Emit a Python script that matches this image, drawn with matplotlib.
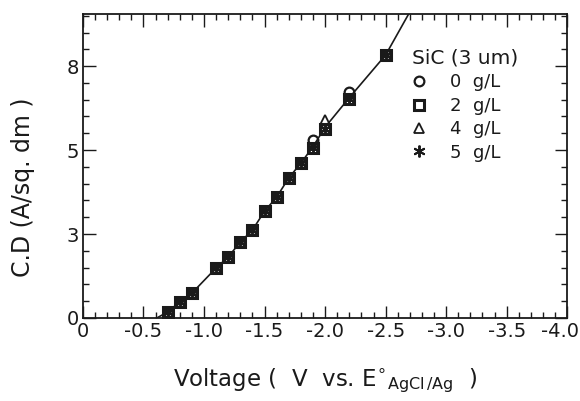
import numpy as np
import matplotlib
matplotlib.use("Agg")
import matplotlib.pyplot as plt
import matplotlib.transforms as mtransforms
from matplotlib.ticker import FixedLocator, FixedFormatter, MultipleLocator

plt.rcParams['font.family'] = ['DejaVu Sans']
plt.rcParams['axes.unicode_minus'] = False
plt.rcParams['mathtext.fontset'] = 'custom'
plt.rcParams['mathtext.rm'] = 'DejaVu Sans'

# voltage (V vs. E AgCl/Ag) and current density
volt = [-0.7, -0.8, -0.9, -1.1, -1.2, -1.3, -1.4, -1.5, -1.6, -1.7, -1.8, -1.9, -2.0, -2.2, -2.5]
cd_0 = [0.18, 0.48, 0.74, 1.49, 1.82, 2.26, 2.62, 3.18, 3.60, 4.17, 4.61, 5.30, 5.63, 6.73, 7.83]
cd_2 = [0.18, 0.48, 0.74, 1.49, 1.82, 2.26, 2.62, 3.18, 3.60, 4.17, 4.61, 5.06, 5.63, 6.52, 7.83]
cd_4 = [0.18, 0.48, 0.74, 1.49, 1.82, 2.26, 2.62, 3.18, 3.60, 4.17, 4.61, 5.06, 5.89, 6.52, 7.83]
cd_5 = [0.18, 0.48, 0.74, 1.49, 1.82, 2.26, 2.62, 3.18, 3.60, 4.17, 4.61, 5.06, 5.63, 6.52, 7.83]

# fitted curve
fit_v = [-0.61, -0.7, -0.8, -0.9, -1.1, -1.2, -1.3, -1.4, -1.5, -1.6, -1.7, -1.8, -1.9, -2.0, -2.2, -2.5, -2.69]
fit_cd = [0.0, 0.18, 0.48, 0.74, 1.49, 1.82, 2.26, 2.62, 3.18, 3.60, 4.17, 4.61, 5.10, 5.68, 6.56, 7.83, 9.05]

ytick_pos = [0, 2.5, 5, 7.5]
ytick_lab = ['0', '3', '5', '8']
xtick_pos = [0, -0.5, -1.0, -1.5, -2.0, -2.5, -3.0, -3.5, -4.0]
xtick_lab = ['0', '-0.5', '-1.0', '-1.5', '-2.0', '-2.5', '-3.0', '-3.5', '-4.0']

ink = '#1a1a1a'

fig = plt.figure(figsize=(5.8, 4.01), dpi=100)
ax = fig.add_axes([0.143, 0.207, 0.835, 0.758])

ax.plot(fit_v, fit_cd, color=ink, lw=1.2, zorder=2)

ms = 7
ax.plot(volt, cd_0, 'o', ms=ms, mfc='none', mec=ink, mew=1.6, label='0  g/L', zorder=3)
ax.plot(volt, cd_2, 's', ms=ms, mfc='none', mec=ink, mew=2.2, label='2  g/L', zorder=3)
ax.plot(volt, cd_4, '^', ms=ms, mfc='none', mec=ink, mew=1.3, label='4  g/L', zorder=3)
ax.plot(volt, cd_5, marker=(6, 2, 0), ls='none', ms=ms + 1.5, mec=ink, mew=1.4, label='5  g/L', zorder=3)

ax.set_xlim(0, -4.0)
ax.set_ylim(0, 9.05)

ax.xaxis.set_major_locator(FixedLocator(xtick_pos))
ax.xaxis.set_major_formatter(FixedFormatter(xtick_lab))
ax.xaxis.set_minor_locator(MultipleLocator(0.1))
ax.yaxis.set_major_locator(FixedLocator(ytick_pos))
ax.yaxis.set_major_formatter(FixedFormatter(ytick_lab))
ax.yaxis.set_minor_locator(MultipleLocator(0.5))

ax.tick_params(which='both', direction='in', top=True, right=True, colors=ink,
               labelsize=14, width=1.0)
ax.tick_params(which='major', length=9, pad=3)
ax.tick_params(which='minor', length=4)
for s in ax.spines.values():
    s.set_linewidth(1.3)
    s.set_color(ink)

# keep the last x tick label inside the canvas
fig.canvas.draw()
last = ax.get_xticklabels()[-1]
last.set_transform(last.get_transform() + mtransforms.ScaledTranslation(-7 / 100, 0, fig.dpi_scale_trans))

ax.set_xlabel(r'Voltage (  V  vs. E$^{\circ}$$_{\mathrm{AgCl\,/Ag}}$  )', fontsize=16.5,
              color=ink, labelpad=18)
ax.set_ylabel('C.D (A/sq. dm )', fontsize=17, color=ink)
ax.yaxis.set_label_coords(-0.098, 0.43)

leg = ax.legend(title='SiC (3 um)', loc='upper left', bbox_to_anchor=(0.68, 0.885),
                frameon=False, fontsize=13, title_fontsize=14.5, handletextpad=1.3,
                handlelength=0.8, labelspacing=0.3, borderaxespad=0, borderpad=0)
leg._legend_box.align = 'left'
for t in leg.get_texts():
    t.set_color(ink)
leg.get_title().set_color(ink)

fig.savefig('out.png', dpi=100)
